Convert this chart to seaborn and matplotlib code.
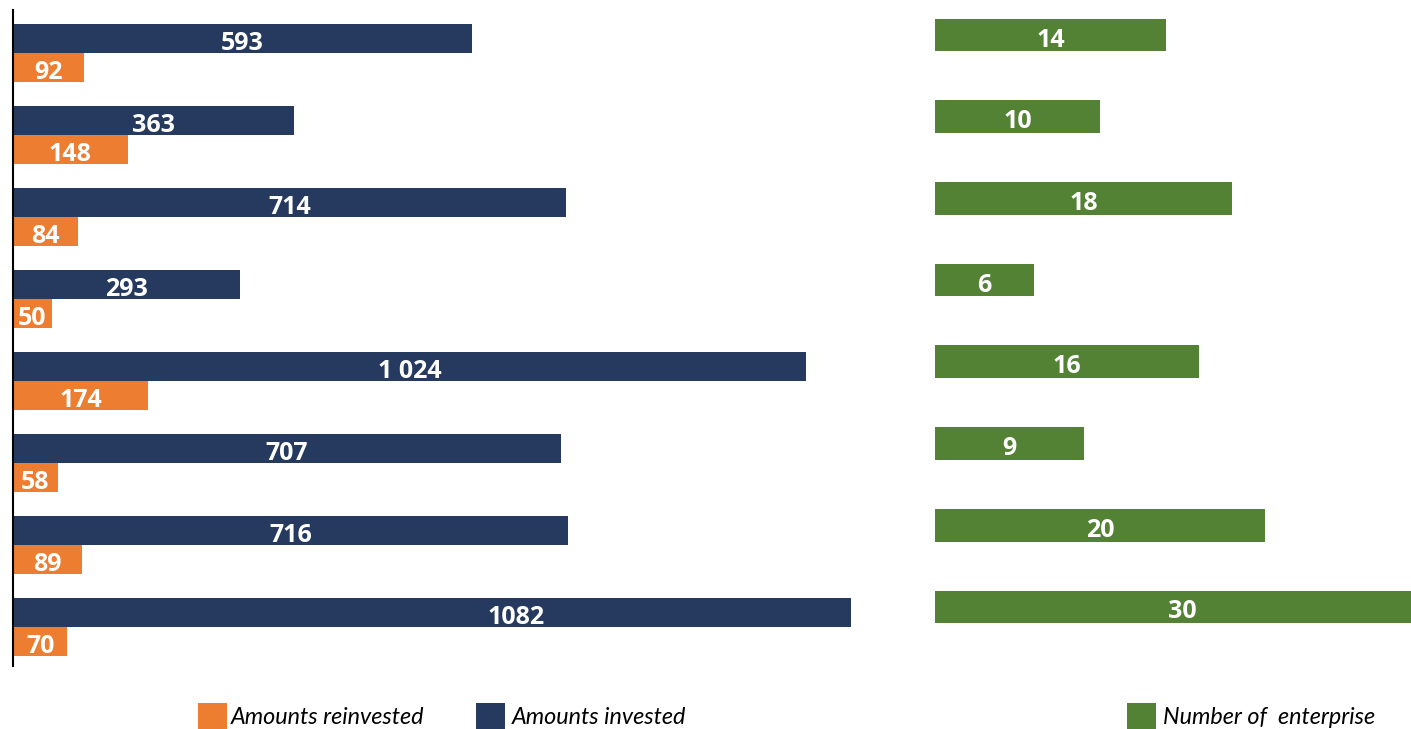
import matplotlib
matplotlib.use("Agg")
import matplotlib.pyplot as plt
from matplotlib.patches import Rectangle
import seaborn as sns
import pandas as pd

# Data
groups = ["G1", "G2", "G3", "G4", "G5", "G6", "G7", "G8"]
invested = [593, 363, 714, 293, 1024, 707, 716, 1082]
invested_labels = ["593", "363", "714", "293", "1 024", "707", "716", "1082"]
reinvested = [92, 148, 84, 50, 174, 58, 89, 70]
enterprises = [14, 10, 18, 6, 16, 9, 20, 30]

NAVY = "#253A5E"
ORANGE = "#ED7D31"
GREEN = "#548235"

sns.set_theme(style="white")
plt.rcParams["font.family"] = ["Lato", "DejaVu Sans"]

W, H = 1411, 729
fig = plt.figure(figsize=(W / 100, H / 100), dpi=100)


def px_axes(x0, y0, x1, y1):
    """Axes placed by pixel box (top-left origin)."""
    return fig.add_axes([x0 / W, 1 - y1 / H, (x1 - x0) / W, (y1 - y0) / H])


# Left panel: amounts invested / reinvested
ax = px_axes(13, 12, 851, 668)
long = pd.DataFrame({
    "group": groups * 2,
    "value": invested + reinvested,
    "series": ["Amounts invested"] * len(groups) + ["Amounts reinvested"] * len(groups),
})
sns.barplot(data=long, y="group", x="value", hue="series", orient="h",
            hue_order=["Amounts invested", "Amounts reinvested"],
            palette=[NAVY, ORANGE], saturation=1, width=0.7, ax=ax, legend=False,
            edgecolor="none", linewidth=0)
ax.set_xlim(0, 1082)
ax.set_ylim(len(groups) - 0.5, -0.5)
for s in ["top", "right", "bottom"]:
    ax.spines[s].set_visible(False)
ax.spines["left"].set_color("black")
ax.spines["left"].set_linewidth(1.5)
ax.spines["left"].set_bounds(len(groups) - 0.5 - 0.02, -0.5 - 0.02)
ax.set_xticks([])
ax.set_yticks([])
ax.set_xlabel("")
ax.set_ylabel("")

lab_kw = dict(color="white", fontweight="bold", fontsize=18, family=["Open Sans", "DejaVu Sans"],
              ha="center", va="center_baseline", clip_on=False)
# the widest bar carries its label a little past mid-length
inv_anchor = [0.5] * (len(invested) - 1) + [0.6]
for i, (v, lab, a) in enumerate(zip(invested, invested_labels, inv_anchor)):
    ax.text(v * a, i - 0.175 + 0.025, lab, **lab_kw)
for i, v in enumerate(reinvested):
    ax.text(v / 2, i + 0.175 + 0.025, f"{v}", **lab_kw)

# Right panel: number of enterprises
ax2 = px_axes(935, 10, 1411, 666)
dfe = pd.DataFrame({"group": groups, "count": enterprises})
sns.barplot(data=dfe, y="group", x="count", orient="h", color=GREEN,
            saturation=1, width=0.4, ax=ax2, edgecolor="none", linewidth=0)
pitch = 81.7
ax2.set_xlim(0, 476 / 16.5)
ax2.set_ylim(-25 / pitch + 656 / pitch, -25 / pitch)
for s in ax2.spines.values():
    s.set_visible(False)
ax2.set_xticks([])
ax2.set_yticks([])
ax2.set_xlabel("")
ax2.set_ylabel("")
for i, v in enumerate(enterprises):
    ax2.text(v / 2, i + 0.025, f"{v}", **lab_kw)

# Legend keys along the bottom
legend_items = [
    (198, 231, ORANGE, "Amounts reinvested"),
    (476, 512, NAVY, "Amounts invested"),
    (1127, 1163, GREEN, "Number of  enterprise"),
]
for x, tx, col, txt in legend_items:
    fig.patches.append(Rectangle((x / W, 0), 29 / W, 26 / H, transform=fig.transFigure,
                                 facecolor=col, edgecolor="none"))
    fig.text(tx / W, 1 - 718 / H, txt, fontsize=16.8, fontstyle="italic",
             color="black", ha="left", va="center")

fig.savefig("out.png", dpi=100)
